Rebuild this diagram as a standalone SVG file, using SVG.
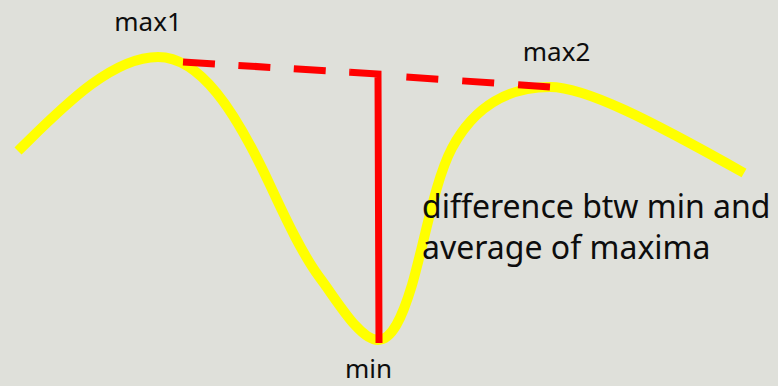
<svg xmlns="http://www.w3.org/2000/svg" width="778" height="386" viewBox="0 0 778 386">
  <style>
    .lbl { font-family: "Noto Sans", "Open Sans", "Liberation Sans", sans-serif; fill: #0d0d0d; }
    .small { font-size: 26px; text-anchor: middle; }
    .big { font-size: 32px; }
    .curve { fill: none; stroke: #ffff00; stroke-width: 10; stroke-linecap: butt; stroke-linejoin: round; }
    .red { fill: none; stroke: #ff0000; stroke-width: 7; stroke-linecap: butt; stroke-linejoin: miter; }
  </style>
  <rect x="0" y="0" width="778" height="386" fill="#dfe0da"/>
  <g id="curve">
    <path class="curve" d="M18,151 C60,110 110,57 158,57 C200,57 235,110 270,185 C284,215 302,254 320,278 C338,302 360,340 378,340 C392,340 402,318 412,285 C425,240 435,180 452,148 C475,105 510,87 550,87 C585,87 650,120 744,173"/>
  </g>
  <g id="connectors">
    <path class="red" d="M183,62 L350,72.3" stroke-dasharray="32 23.5"/>
    <path class="red" d="M350,72.3 L378,74 L379,343"/>
    <path class="red" d="M550,87 L378,75" stroke-dasharray="32 24 32 24 32 100"/>
  </g>
  <g id="labels">
    <text id="max1" class="lbl small" x="148" y="31">max1</text>
    <text id="max2" class="lbl small" x="556.5" y="61">max2</text>
    <text id="min" class="lbl small" x="368.5" y="378">min</text>
    <text id="note" class="lbl big" x="422" y="218">difference btw min and</text>
    <text id="note2" class="lbl big" x="422" y="259">average of maxima</text>
  </g>
</svg>
